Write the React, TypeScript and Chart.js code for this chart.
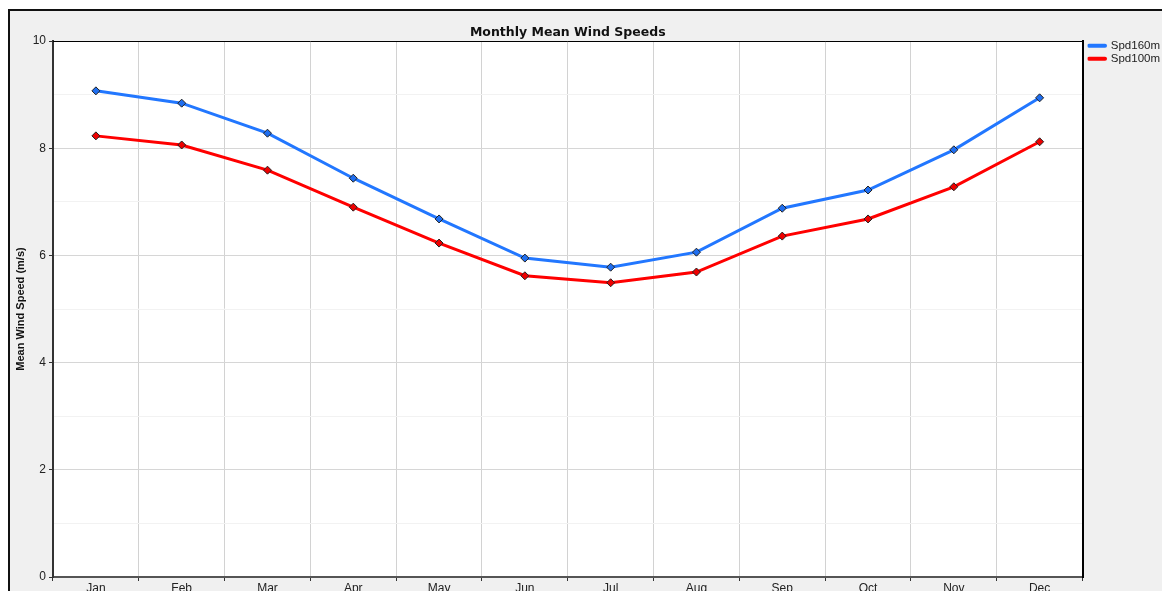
import React, { useEffect, useRef } from "react";
import { Chart, registerables } from "chart.js";

Chart.register(...registerables);

const months = ["Jan", "Feb", "Mar", "Apr", "May", "Jun", "Jul", "Aug", "Sep", "Oct", "Nov", "Dec"];
const spd160m = [9.07, 8.84, 8.28, 7.44, 6.68, 5.95, 5.78, 6.06, 6.88, 7.22, 7.97, 8.94];
const spd100m = [8.23, 8.06, 7.59, 6.9, 6.23, 5.62, 5.49, 5.69, 6.36, 6.68, 7.28, 8.12];
const seriesLabels = ["Spd160m", "Spd100m"];
const seriesColors = ["#2277ff", "#ff0000"];
const markerColors = ["#1f6ef0", "#ee0000"];
const chartTitle = "Monthly Mean Wind Speeds";
const yTitle = "Mean Wind Speed (m/s)";

const FONT = "'Liberation Sans', Arial, sans-serif";
const TITLE_FONT = "'DejaVu Sans', Verdana, sans-serif";

const bgPlugin = {
  id: "bgPlugin",
  beforeDraw(chart: any) {
    const { ctx, chartArea } = chart;
    ctx.save();
    ctx.fillStyle = "#f0f0f0";
    ctx.fillRect(0, 0, chart.width, chart.height);
    ctx.fillStyle = "#ffffff";
    ctx.fillRect(chartArea.left, chartArea.top, chartArea.right - chartArea.left, chartArea.bottom - chartArea.top);
    ctx.restore();
  },
  afterDraw(chart: any) {
    const { ctx, chartArea } = chart;
    ctx.save();
    ctx.strokeStyle = "#000";
    ctx.lineWidth = 1;
    ctx.beginPath();
    ctx.moveTo(chartArea.left, chartArea.top + 0.5);
    ctx.lineTo(chartArea.right, chartArea.top + 0.5);
    ctx.stroke();
    ctx.restore();
  },
};

function makeDataset(i: number, data: number[]) {
  return {
    label: seriesLabels[i],
    data,
    borderColor: seriesColors[i],
    backgroundColor: markerColors[i],
    borderWidth: 3,
    borderCapStyle: "round",
    pointStyle: "rectRot",
    pointRadius: 4,
    pointBorderColor: "#222",
    pointBorderWidth: 1,
    pointBackgroundColor: markerColors[i],
    tension: 0,
    yAxisID: "y",
  };
}

export default function App() {
  const ref = useRef<HTMLCanvasElement>(null);
  useEffect(() => {
    if (!ref.current) return;
    const chart = new Chart(ref.current, {
      type: "line",
      data: {
        labels: months,
        datasets: [makeDataset(0, spd160m), makeDataset(1, spd100m)],
      },
      options: {
        responsive: false,
        animation: false,
        layout: { padding: 0 },
        plugins: {
          title: {
            display: true,
            text: chartTitle,
            fullSize: false,
            color: "#111",
            font: { family: TITLE_FONT, size: 12.5, weight: "bold" },
            padding: { top: 14, bottom: 1 },
          },
          legend: {
            display: true,
            position: "right",
            align: "start",
            fullSize: true,
            title: { display: true, text: " ", font: { family: FONT, size: 12 }, padding: 6.5 },
            labels: {
              usePointStyle: true,
              pointStyle: "line",
              pointStyleWidth: 16,
              padding: 1.5,
              color: "#222",
              font: { family: FONT, size: 11.5 },
              generateLabels: (c: any) => {
                const items = Chart.defaults.plugins.legend.labels.generateLabels(c);
                return items.map((it: any) => ({
                  ...it,
                  strokeStyle: seriesColors[it.datasetIndex],
                  fillStyle: seriesColors[it.datasetIndex],
                  lineWidth: 4,
                  lineCap: "round",
                  pointStyle: "line",
                }));
              },
            },
          },
          tooltip: { enabled: false },
        },
        scales: {
          x: {
            type: "category",
            offset: true,
            grid: {
              offset: true,
              color: "#d2d2d2",
              tickColor: "#333",
              tickLength: 4,
              lineWidth: 1,
            },
            border: { display: true, color: "#555", width: 2 },
            ticks: { color: "#222", padding: 0, font: { family: FONT, size: 12 }, maxRotation: 0, autoSkip: false },
            afterFit: (s: any) => {
              s.height = 34;
            },
          },
          y: {
            type: "linear",
            position: "left",
            min: 0,
            max: 10,
            ticks: {
              stepSize: 1,
              color: "#222",
              padding: 3,
              font: { family: FONT, size: 12 },
              callback: (v: any) => (Number(v) % 2 === 0 ? String(v) : ""),
            },
            grid: {
              color: (c: any) => (c.tick && c.tick.value % 2 === 0 ? "#d6d6d6" : "#f2f2f2"),
              tickColor: (c: any) => (c.tick && c.tick.value % 2 === 0 ? "#333" : "rgba(0,0,0,0)"),
              tickLength: 4,
              lineWidth: 1,
            },
            border: { display: true, color: "#333", width: 2 },
            title: {
              display: true,
              text: yTitle,
              color: "#111",
              font: { family: FONT, size: 11, weight: "bold" },
              padding: { top: 4, bottom: 0 },
            },
            afterFit: (s: any) => {
              s.width = 43;
            },
          },
          yRight: {
            type: "linear",
            position: "right",
            display: true,
            min: 0,
            max: 10,
            ticks: { display: false },
            grid: { drawOnChartArea: false, drawTicks: false },
            border: { display: true, color: "#000", width: 2 },
            afterFit: (s: any) => {
              s.width = 5;
            },
          },
        },
      },
      plugins: [bgPlugin],
    } as any);
    return () => chart.destroy();
  }, []);

  return (
    <div style={{ position: "fixed", left: 8, top: 8, width: 1154, height: 583, overflow: "hidden" }}>
      <div
        style={{
          marginTop: 1,
          border: "2px solid #111",
          width: 1175,
          height: 620,
          background: "#f0f0f0",
        }}
      >
        <canvas ref={ref} width={1160} height={600} style={{ display: "block" }} />
      </div>
    </div>
  );
}
